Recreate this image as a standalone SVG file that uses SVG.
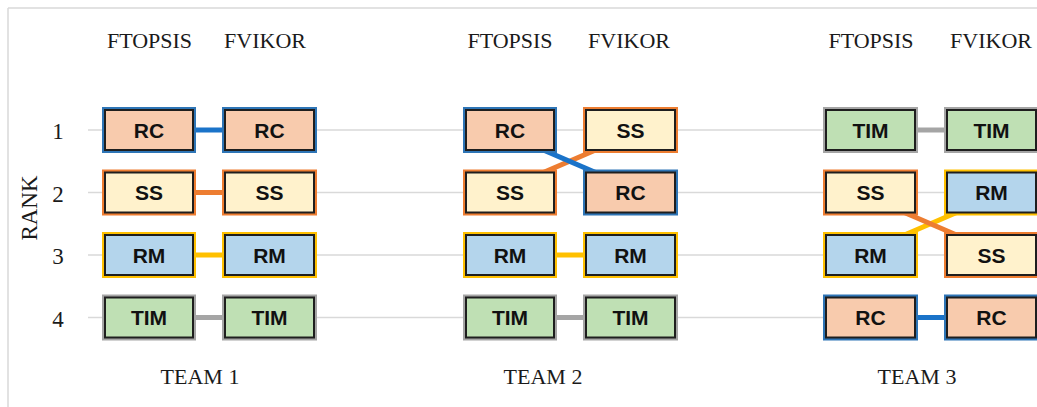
<svg xmlns="http://www.w3.org/2000/svg" width="1037" height="407" viewBox="0 0 1037 407">
<style>
.lbl{font-family:"Liberation Serif","Times New Roman",serif;font-size:22px;fill:#1a1a1a;text-anchor:middle}
.ax{font-size:23px}
.bt{font-family:"Liberation Sans",Arial,sans-serif;font-weight:bold;font-size:21px;fill:#111;text-anchor:middle}
.grid{stroke:#d9d9d9;stroke-width:1.5;fill:none}
.in{stroke:#1e1e1e;stroke-width:2}
.rc .o{fill:#2e75b6}.rc .in{fill:#f8cbad}
.ss .o{fill:#ed7d31}.ss .in{fill:#fff2cc}
.rm .o{fill:#ffc000}.rm .in{fill:#b4d5ec}
.tim .o{fill:#a5a5a5}.tim .in{fill:#bfe0b4}
.c{stroke-width:5;fill:none}
.cb{stroke:#1a73c9}.co{stroke:#ed7d31}.cy{stroke:#ffc000}.cg{stroke:#a5a5a5}
</style>
<rect width="1037" height="407" fill="#fff"/>
<g id="frame">
<line x1="8" y1="8" x2="8" y2="407" stroke="#d9d9d9" stroke-width="1.5"/>
<line x1="8" y1="8" x2="1037" y2="8" stroke="#d9d9d9" stroke-width="1.5"/>
</g>
<g id="gridlines">
<line class="grid" x1="88" y1="130" x2="1037" y2="130"/>
<line class="grid" x1="88" y1="192.5" x2="1037" y2="192.5"/>
<line class="grid" x1="88" y1="255" x2="1037" y2="255"/>
<line class="grid" x1="88" y1="317.5" x2="1037" y2="317.5"/>
</g>
<g id="axis">
<text class="lbl ax" x="58" y="139">1</text>
<text class="lbl ax" x="58" y="201.5">2</text>
<text class="lbl ax" x="58" y="264">3</text>
<text class="lbl ax" x="58" y="326.5">4</text>
<text class="lbl ax" transform="translate(37,208) rotate(-90)">RANK</text>
</g>
<g id="headers">
<text class="lbl" x="149.5" y="48">FTOPSIS</text>
<text class="lbl" x="265" y="48">FVIKOR</text>
<text class="lbl" x="510" y="48">FTOPSIS</text>
<text class="lbl" x="629" y="48">FVIKOR</text>
<text class="lbl" x="871" y="48">FTOPSIS</text>
<text class="lbl" x="991" y="48">FVIKOR</text>
<text class="lbl" x="200" y="384">TEAM 1</text>
<text class="lbl" x="543" y="384">TEAM 2</text>
<text class="lbl" x="917" y="384">TEAM 3</text>
</g>
<g id="connectors">
<line class="c cb" x1="149" y1="130" x2="269" y2="130"/>
<line class="c co" x1="149" y1="192.5" x2="269" y2="192.5"/>
<line class="c cy" x1="149" y1="255" x2="269" y2="255"/>
<line class="c cg" x1="149" y1="317.5" x2="269" y2="317.5"/>
<line class="c co" x1="497" y1="192.5" x2="642" y2="130"/>
<line class="c cb" x1="497" y1="130" x2="642" y2="192.5"/>
<line class="c cy" x1="510" y1="255" x2="630" y2="255"/>
<line class="c cg" x1="510" y1="317.5" x2="630" y2="317.5"/>
<line class="c cg" x1="870" y1="130" x2="990" y2="130"/>
<line class="c cy" x1="858" y1="255" x2="1003" y2="192.5"/>
<line class="c co" x1="858" y1="192.5" x2="1003" y2="255"/>
<line class="c cb" x1="870" y1="317.5" x2="990" y2="317.5"/>
</g>
<g id="t1-ftopsis-rc" class="rc"><rect class="o" x="102" y="107" width="94" height="46"/><rect class="in" x="105" y="110" width="88" height="40"/><text class="bt" x="149" y="137.5">RC</text></g>
<g id="t1-ftopsis-ss" class="ss"><rect class="o" x="102" y="169.5" width="94" height="46"/><rect class="in" x="105" y="172.5" width="88" height="40"/><text class="bt" x="149" y="200">SS</text></g>
<g id="t1-ftopsis-rm" class="rm"><rect class="o" x="102" y="232" width="94" height="46"/><rect class="in" x="105" y="235" width="88" height="40"/><text class="bt" x="149" y="262.5">RM</text></g>
<g id="t1-ftopsis-tim" class="tim"><rect class="o" x="102" y="294.5" width="94" height="46"/><rect class="in" x="105" y="297.5" width="88" height="40"/><text class="bt" x="149" y="325">TIM</text></g>
<g id="t1-fvikor-rc" class="rc"><rect class="o" x="222" y="107" width="95" height="46"/><rect class="in" x="225" y="110" width="89" height="40"/><text class="bt" x="269.5" y="137.5">RC</text></g>
<g id="t1-fvikor-ss" class="ss"><rect class="o" x="222" y="169.5" width="95" height="46"/><rect class="in" x="225" y="172.5" width="89" height="40"/><text class="bt" x="269.5" y="200">SS</text></g>
<g id="t1-fvikor-rm" class="rm"><rect class="o" x="222" y="232" width="95" height="46"/><rect class="in" x="225" y="235" width="89" height="40"/><text class="bt" x="269.5" y="262.5">RM</text></g>
<g id="t1-fvikor-tim" class="tim"><rect class="o" x="222" y="294.5" width="95" height="46"/><rect class="in" x="225" y="297.5" width="89" height="40"/><text class="bt" x="269.5" y="325">TIM</text></g>
<g id="t2-ftopsis-rc" class="rc"><rect class="o" x="463" y="107" width="94" height="46"/><rect class="in" x="466" y="110" width="88" height="40"/><text class="bt" x="510" y="137.5">RC</text></g>
<g id="t2-ftopsis-ss" class="ss"><rect class="o" x="463" y="169.5" width="94" height="46"/><rect class="in" x="466" y="172.5" width="88" height="40"/><text class="bt" x="510" y="200">SS</text></g>
<g id="t2-ftopsis-rm" class="rm"><rect class="o" x="463" y="232" width="94" height="46"/><rect class="in" x="466" y="235" width="88" height="40"/><text class="bt" x="510" y="262.5">RM</text></g>
<g id="t2-ftopsis-tim" class="tim"><rect class="o" x="463" y="294.5" width="94" height="46"/><rect class="in" x="466" y="297.5" width="88" height="40"/><text class="bt" x="510" y="325">TIM</text></g>
<g id="t2-fvikor-ss" class="ss"><rect class="o" x="583" y="107" width="95" height="46"/><rect class="in" x="586" y="110" width="89" height="40"/><text class="bt" x="630.5" y="137.5">SS</text></g>
<g id="t2-fvikor-rc" class="rc"><rect class="o" x="583" y="169.5" width="95" height="46"/><rect class="in" x="586" y="172.5" width="89" height="40"/><text class="bt" x="630.5" y="200">RC</text></g>
<g id="t2-fvikor-rm" class="rm"><rect class="o" x="583" y="232" width="95" height="46"/><rect class="in" x="586" y="235" width="89" height="40"/><text class="bt" x="630.5" y="262.5">RM</text></g>
<g id="t2-fvikor-tim" class="tim"><rect class="o" x="583" y="294.5" width="95" height="46"/><rect class="in" x="586" y="297.5" width="89" height="40"/><text class="bt" x="630.5" y="325">TIM</text></g>
<g id="t3-ftopsis-tim" class="tim"><rect class="o" x="823" y="107" width="95" height="46"/><rect class="in" x="826" y="110" width="89" height="40"/><text class="bt" x="870.5" y="137.5">TIM</text></g>
<g id="t3-ftopsis-ss" class="ss"><rect class="o" x="823" y="169.5" width="95" height="46"/><rect class="in" x="826" y="172.5" width="89" height="40"/><text class="bt" x="870.5" y="200">SS</text></g>
<g id="t3-ftopsis-rm" class="rm"><rect class="o" x="823" y="232" width="95" height="46"/><rect class="in" x="826" y="235" width="89" height="40"/><text class="bt" x="870.5" y="262.5">RM</text></g>
<g id="t3-ftopsis-rc" class="rc"><rect class="o" x="823" y="294.5" width="95" height="46"/><rect class="in" x="826" y="297.5" width="89" height="40"/><text class="bt" x="870.5" y="325">RC</text></g>
<g id="t3-fvikor-tim" class="tim"><rect class="o" x="944" y="107" width="95" height="46"/><rect class="in" x="947" y="110" width="89" height="40"/><text class="bt" x="991.5" y="137.5">TIM</text></g>
<g id="t3-fvikor-rm" class="rm"><rect class="o" x="944" y="169.5" width="95" height="46"/><rect class="in" x="947" y="172.5" width="89" height="40"/><text class="bt" x="991.5" y="200">RM</text></g>
<g id="t3-fvikor-ss" class="ss"><rect class="o" x="944" y="232" width="95" height="46"/><rect class="in" x="947" y="235" width="89" height="40"/><text class="bt" x="991.5" y="262.5">SS</text></g>
<g id="t3-fvikor-rc" class="rc"><rect class="o" x="944" y="294.5" width="95" height="46"/><rect class="in" x="947" y="297.5" width="89" height="40"/><text class="bt" x="991.5" y="325">RC</text></g>
</svg>
